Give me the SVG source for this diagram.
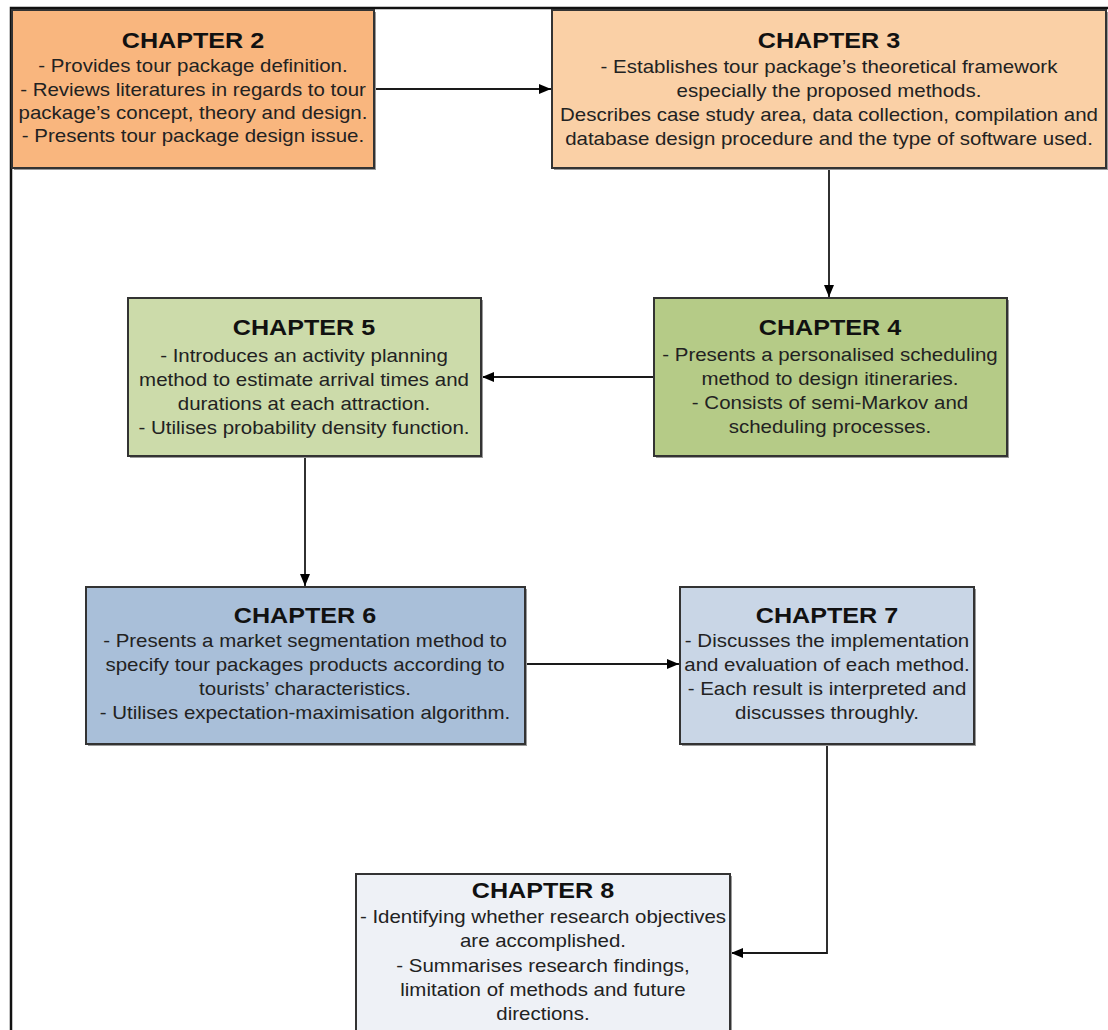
<svg xmlns="http://www.w3.org/2000/svg" width="1108" height="1030" viewBox="0 0 1108 1030">
<defs>
<style>
.box{stroke:#333;stroke-width:2}
.sh{fill:#9a9a9a}
.t{font-family:"Liberation Sans",Arial,sans-serif;font-size:21.5px;font-weight:bold;fill:#111;text-anchor:middle}
.b{font-family:"Liberation Sans",Arial,sans-serif;font-size:17.5px;fill:#222;text-anchor:middle}
.c{fill:none;stroke:#1a1a1a;stroke-width:1.8}
</style>
<marker id="ah" viewBox="0 0 12 10" refX="12" refY="5" markerWidth="12" markerHeight="10" markerUnits="userSpaceOnUse" orient="auto">
<path d="M0,0 L12,5 L0,10 z" fill="#000"/>
</marker>
</defs>
<rect width="1108" height="1030" fill="#fff"/>
<path d="M11,1030 L11,8 L1108,8" fill="none" stroke="#111" stroke-width="2.5"/>
<g id="connectors">
<path class="c" d="M374,89 L551,89" marker-end="url(#ah)"/>
<path class="c" d="M829,168 L829,297" marker-end="url(#ah)"/>
<path class="c" d="M654,377 L482,377" marker-end="url(#ah)"/>
<path class="c" d="M305,456 L305,586" marker-end="url(#ah)"/>
<path class="c" d="M525,664 L679,664" marker-end="url(#ah)"/>
<path class="c" d="M827,744 L827,953 L731,953" marker-end="url(#ah)"/>
</g>
<g id="ch2">
<rect class="sh" x="14" y="12" width="362" height="158"/>
<rect class="box" x="12" y="10" width="362" height="158" fill="#F9B67E"/>
<g transform="translate(193,0) scale(1.17,1)">
<text class="t" x="0" y="48">CHAPTER 2</text>
<text class="b" x="0" y="72">- Provides tour package definition.</text>
<text class="b" x="0" y="96">- Reviews literatures in regards to tour</text>
<text class="b" x="0" y="119">package’s concept, theory and design.</text>
<text class="b" x="0" y="142">- Presents tour package design issue.</text>
</g>
</g>
<g id="ch3">
<rect class="sh" x="554" y="12" width="554" height="158"/>
<rect class="box" x="552" y="10" width="554" height="158" fill="#FAD0A6"/>
<g transform="translate(829,0) scale(1.17,1)">
<text class="t" x="0" y="48">CHAPTER 3</text>
<text class="b" x="0" y="73">- Establishes tour package’s theoretical framework</text>
<text class="b" x="0" y="97">especially the proposed methods.</text>
<text class="b" x="0" y="121">Describes case study area, data collection, compilation and</text>
<text class="b" x="0" y="145">database design procedure and the type of software used.</text>
</g>
</g>
<g id="ch4">
<rect class="sh" x="656" y="300" width="353" height="158"/>
<rect class="box" x="654" y="298" width="353" height="158" fill="#B5CB87"/>
<g transform="translate(830,0) scale(1.17,1)">
<text class="t" x="0" y="335">CHAPTER 4</text>
<text class="b" x="0" y="361">- Presents a personalised scheduling</text>
<text class="b" x="0" y="385">method to design itineraries.</text>
<text class="b" x="0" y="409">- Consists of semi-Markov and</text>
<text class="b" x="0" y="433">scheduling processes.</text>
</g>
</g>
<g id="ch5">
<rect class="sh" x="130" y="300" width="353" height="158"/>
<rect class="box" x="128" y="298" width="353" height="158" fill="#CCDBAA"/>
<g transform="translate(304,0) scale(1.17,1)">
<text class="t" x="0" y="335">CHAPTER 5</text>
<text class="b" x="0" y="362">- Introduces an activity planning</text>
<text class="b" x="0" y="386">method to estimate arrival times and</text>
<text class="b" x="0" y="410">durations at each attraction.</text>
<text class="b" x="0" y="434">- Utilises probability density function.</text>
</g>
</g>
<g id="ch6">
<rect class="sh" x="88" y="589" width="439" height="157"/>
<rect class="box" x="86" y="587" width="439" height="157" fill="#A9BFD9"/>
<g transform="translate(305,0) scale(1.17,1)">
<text class="t" x="0" y="623">CHAPTER 6</text>
<text class="b" x="0" y="647">- Presents a market segmentation method to</text>
<text class="b" x="0" y="671">specify tour packages products according to</text>
<text class="b" x="0" y="695">tourists’ characteristics.</text>
<text class="b" x="0" y="719">- Utilises expectation-maximisation algorithm.</text>
</g>
</g>
<g id="ch7">
<rect class="sh" x="682" y="589" width="294" height="157"/>
<rect class="box" x="680" y="587" width="294" height="157" fill="#C9D6E6"/>
<g transform="translate(827,0) scale(1.17,1)">
<text class="t" x="0" y="623">CHAPTER 7</text>
<text class="b" x="0" y="647">- Discusses the implementation</text>
<text class="b" x="0" y="671">and evaluation of each method.</text>
<text class="b" x="0" y="695">- Each result is interpreted and</text>
<text class="b" x="0" y="719">discusses throughly.</text>
</g>
</g>
<g id="ch8">
<rect class="sh" x="358" y="876" width="374" height="160"/>
<rect class="box" x="356" y="874" width="374" height="160" fill="#EEF1F6"/>
<g transform="translate(543,0) scale(1.17,1)">
<text class="t" x="0" y="898">CHAPTER 8</text>
<text class="b" x="0" y="923">- Identifying whether research objectives</text>
<text class="b" x="0" y="947">are accomplished.</text>
<text class="b" x="0" y="972">- Summarises research findings,</text>
<text class="b" x="0" y="996">limitation of methods and future</text>
<text class="b" x="0" y="1020">directions.</text>
</g>
</g>
</svg>
